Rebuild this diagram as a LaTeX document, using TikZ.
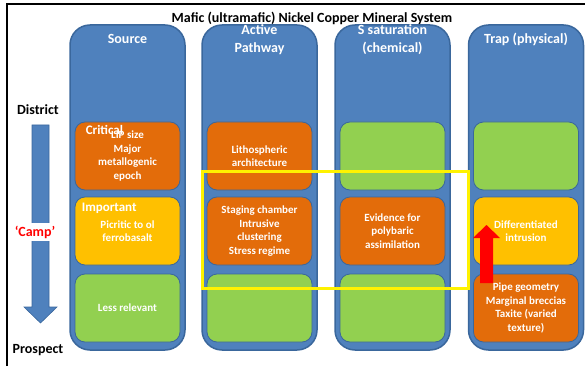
\documentclass[tikz,border=0pt]{standalone}
\usepackage{fontspec}
\setmainfont{Carlito}
\usetikzlibrary{positioning}
\definecolor{colblue}{HTML}{4F81BD}
\definecolor{edgeblue}{HTML}{3A679C}
\definecolor{critorange}{HTML}{E36C0A}
\definecolor{impgold}{HTML}{FFC000}
\definecolor{lessgreen}{HTML}{92D050}

\begin{document}
\begin{tikzpicture}[
  x=1pt, y=-1pt,
  column/.style={draw=edgeblue, line width=1.5pt, fill=colblue, rounded corners=20pt,
    minimum width=115pt, minimum height=325pt, inner sep=0pt},
  cell/.style={draw=edgeblue, line width=0.8pt, rounded corners=10pt, minimum width=105pt,
    minimum height=68pt, align=center, text=white, inner sep=2pt,
    font=\bfseries\fontsize{11}{13.4}\selectfont},
  crit/.style={cell, fill=critorange},
  imp/.style={cell, fill=impgold},
  less/.style={cell, fill=lessgreen},
  head/.style={text=white, align=center, font=\bfseries\fontsize{14}{17.5}\selectfont},
  tag/.style={text=white, anchor=west, inner sep=0pt, font=\bfseries\fontsize{13}{15}\selectfont},
  lvl/.style={font=\bfseries\fontsize{14}{17}\selectfont}
]
\useasboundingbox (0,0) rectangle (585,366);
\draw[line width=2pt] (7,366) -- (7,4) -- (585,4);

\node[font=\bfseries\fontsize{14}{17}\selectfont] (title) at (312,18) {Mafic (ultramafic) Nickel Copper Mineral System};

% columns
\node[column] (src)  at (127.5,187.5) {};
\node[column] (path) at (259.5,187.5) {};
\node[column] (ssat) at (392.5,187.5) {};
\node[column] (trap) at (526,187.5) {};
\node[head] at (127.5,39) {Source};
\node[head] at (259.5,39.5) {Active\\Pathway};
\node[head] at (392.5,39.5) {S saturation\\(chemical)};
\node[head] at (526,39) {Trap (physical)};

% cells
\node[crit] (src1)  at (127.5,156) {LIP size\\Major\\metallogenic\\epoch};
\node[imp]  (src2)  at (127.5,231) {Picritic to ol\\ferrobasalt};
\node[less] (src3)  at (127.5,308) {Less relevant};
\node[crit] (path1) at (259.5,156) {Lithospheric\\architecture};
\node[crit] (path2) at (259.5,231) {Staging chamber\\Intrusive\\clustering\\Stress regime};
\node[less] (path3) at (259.5,308) {};
\node[less] (ssat1) at (392.5,156) {};
\node[crit] (ssat2) at (392.5,231) {Evidence for\\polybaric\\assimilation};
\node[less] (ssat3) at (392.5,308) {};
\node[less] (trap1) at (526,156) {};
\node[imp]  (trap2) at (526,231) {Differentiated\\intrusion};
\node[crit] (trap3) at (526,308) {Pipe geometry\\Marginal breccias\\Taxite (varied\\texture)};
\node[tag] at ([xshift=11pt, yshift=-8pt]src1.north west) {Critical};
\node[tag] at ([xshift=7pt, yshift=-12pt]src2.north west) {Important};

% scale arrow
\draw[draw=edgeblue, fill=colblue, line width=0.6pt]
  (32,125) -- (49,125) -- (49,307) -- (57,307) -- (40.5,323) -- (24,307) -- (32,307) -- cycle;
\node[lvl] (district) at (38,110) {District};
\node[lvl] (prospect) at (38,350) {Prospect};
\node[lvl, text=red, fill=white, inner sep=3pt] (camp) at (35,232) {‘Camp’};

% highlight and red arrow
\draw[yellow, line width=3pt] (202,171) rectangle (468,288);
\fill[red] (480,283) -- (493,283) -- (493,238) -- (500,238) -- (486.5,225) -- (473,238) -- (480,238) -- cycle;
\end{tikzpicture}
\end{document}
